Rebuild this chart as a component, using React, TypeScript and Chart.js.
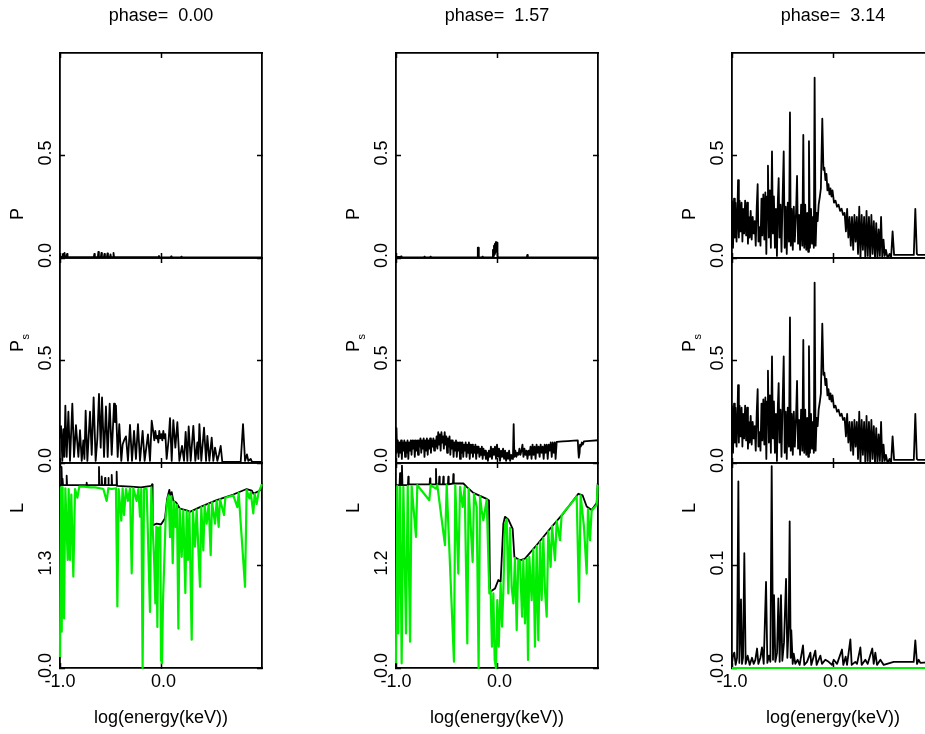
import React, { useEffect, useRef } from 'react';
import { Chart, registerables } from 'chart.js';

Chart.register(...registerables);

const FONT = "'Liberation Sans', Arial, Helvetica, sans-serif";

// ---------- labels / ticks ----------
const phaseValues = [0.0, 1.57, 3.14];
const xTitleText = 'log(energy(keV))';
const xTicks = [-1.0, 0.0];
const xMin = -1.0;
const xMax = 1.0;
const pTicks = [0.0, 0.5];
const pMax = 1.0;
const lTicks = [
  [0.0, 1.3],
  [0.0, 1.2],
  [0.0, 0.1],
];
const lMax = [2.6, 2.4, 0.2];
const rowTitles = ['P', 'P', 'L'];
const rowSubs = ['', 's', ''];

type Pt = [number, number];

// ---------- phase = 0.00 ----------
const pPhase0: Pt[] = [
  [-1.0, 0.005], [-0.975, 0.005], [-0.97, 0.02], [-0.965, 0.005], [-0.955, 0.025], [-0.95, 0.005],
  [-0.935, 0.005], [-0.93, 0.02], [-0.925, 0.005], [-0.7, 0.004], [-0.665, 0.004], [-0.66, 0.02],
  [-0.655, 0.004], [-0.625, 0.004], [-0.62, 0.03], [-0.615, 0.004], [-0.595, 0.004], [-0.59, 0.025],
  [-0.585, 0.004], [-0.565, 0.004], [-0.56, 0.02], [-0.555, 0.004], [-0.535, 0.004], [-0.53, 0.022],
  [-0.525, 0.004], [-0.505, 0.004], [-0.5, 0.018], [-0.495, 0.004], [-0.475, 0.004], [-0.47, 0.025],
  [-0.465, 0.004], [-0.3, 0.004], [-0.025, 0.004], [-0.02, 0.01], [-0.015, 0.003], [0.095, 0.003],
  [0.1, 0.008], [0.105, 0.003], [0.195, 0.003], [0.2, 0.006], [0.205, 0.003], [1.0, 0.003],
];

const psPhase0: Pt[] = [
  [-1.0, 0.12], [-0.99, 0.18], [-0.977, 0.01], [-0.967, 0.165], [-0.957, 0.03], [-0.947, 0.28],
  [-0.934, 0.03], [-0.917, 0.25], [-0.901, 0.01], [-0.878, 0.29], [-0.861, 0.03], [-0.842, 0.185],
  [-0.818, 0.03], [-0.802, 0.16], [-0.785, 0.01], [-0.769, 0.11], [-0.758, 0.02], [-0.746, 0.255],
  [-0.729, 0.01], [-0.703, 0.25], [-0.686, 0.04], [-0.667, 0.32], [-0.647, 0.01], [-0.63, 0.12],
  [-0.614, 0.337], [-0.597, 0.075], [-0.584, 0.32], [-0.564, 0.03], [-0.545, 0.276], [-0.528, 0.03],
  [-0.508, 0.29], [-0.488, 0.04], [-0.465, 0.29], [-0.456, 0.2], [-0.446, 0.28], [-0.429, 0.03],
  [-0.413, 0.19], [-0.393, 0.01], [-0.38, 0.09], [-0.366, 0.11], [-0.347, 0.13], [-0.327, 0.01],
  [-0.307, 0.186], [-0.287, 0.01], [-0.267, 0.157], [-0.248, 0.02], [-0.228, 0.19], [-0.208, 0.01],
  [-0.182, 0.157], [-0.162, 0.01], [-0.129, 0.14], [-0.109, 0.01], [-0.092, 0.206], [-0.076, 0.15],
  [-0.066, 0.11], [-0.056, 0.157], [-0.046, 0.12], [-0.036, 0.132], [-0.026, 0.1], [-0.017, 0.157],
  [-0.007, 0.12], [0.003, 0.141], [0.013, 0.11], [0.023, 0.157], [0.033, 0.12], [0.043, 0.141],
  [0.056, 0.02], [0.076, 0.116], [0.089, 0.219], [0.106, 0.01], [0.122, 0.209], [0.142, 0.075],
  [0.162, 0.199], [0.182, 0.01], [0.208, 0.083], [0.228, 0.01], [0.244, 0.152], [0.261, 0.01],
  [0.274, 0.178], [0.294, 0.01], [0.32, 0.181], [0.34, 0.01], [0.36, 0.1], [0.37, 0.02],
  [0.38, 0.19], [0.399, 0.01], [0.426, 0.173], [0.446, 0.01], [0.459, 0.132], [0.479, 0.01],
  [0.502, 0.124], [0.518, 0.01], [0.535, 0.075], [0.558, 0.01], [0.574, 0.042], [0.591, 0.083],
  [0.607, 0.005], [0.789, 0.005], [0.812, 0.19], [0.832, 0.01], [0.851, 0.042], [0.865, 0.01],
  [0.888, 0.02], [0.901, 0.005], [1.0, 0.005],
];

const lBlack0: Pt[] = [
  [-1.0, 2.32], [-0.99, 2.32], [-0.985, 2.55], [-0.98, 2.32], [-0.975, 2.4], [-0.97, 2.32],
  [-0.937, 2.32], [-0.934, 2.44], [-0.93, 2.32], [-0.74, 2.32], [-0.736, 2.35], [-0.732, 2.32],
  [-0.618, 2.32], [-0.614, 2.55], [-0.61, 2.32], [-0.59, 2.32], [-0.587, 2.43], [-0.583, 2.32],
  [-0.557, 2.32], [-0.554, 2.41], [-0.55, 2.32], [-0.524, 2.32], [-0.521, 2.41], [-0.517, 2.32],
  [-0.491, 2.32], [-0.488, 2.45], [-0.484, 2.32], [-0.442, 2.32], [-0.439, 2.49], [-0.435, 2.31],
  [-0.3, 2.3], [-0.2, 2.29], [-0.095, 2.31], [-0.088, 2.33], [-0.083, 1.81], [-0.043, 1.83],
  [0.0, 1.82], [0.04, 1.9], [0.06, 2.14], [0.073, 2.21], [0.083, 2.26], [0.09, 2.19],
  [0.106, 2.23], [0.122, 2.12], [0.15, 2.1], [0.188, 2.02], [0.254, 2.0], [0.287, 1.98],
  [0.386, 2.04], [0.551, 2.13], [0.716, 2.2], [0.848, 2.27], [0.9, 2.25], [0.914, 2.21],
  [0.964, 2.24], [0.99, 2.26], [1.0, 2.34],
];

const lGreen0: Pt[] = [
  [-1.0, 0.14], [-0.99, 2.29], [-0.983, 0.46], [-0.974, 2.29], [-0.96, 0.63], [-0.947, 2.28],
  [-0.924, 1.37], [-0.914, 2.27], [-0.901, 1.37], [-0.888, 2.2], [-0.868, 1.16], [-0.851, 2.27],
  [-0.828, 2.16], [-0.809, 2.3], [-0.76, 2.3], [-0.7, 2.29], [-0.653, 2.29], [-0.604, 2.28],
  [-0.571, 2.27], [-0.538, 2.12], [-0.521, 2.28], [-0.488, 2.27], [-0.446, 2.28], [-0.432, 0.78],
  [-0.419, 2.27], [-0.393, 1.87], [-0.38, 2.28], [-0.366, 1.94], [-0.347, 2.27], [-0.327, 2.12],
  [-0.307, 2.28], [-0.29, 1.2], [-0.274, 2.28], [-0.241, 2.12], [-0.224, 2.27], [-0.208, 1.92],
  [-0.195, 2.27], [-0.182, 0.0], [-0.168, 2.27], [-0.142, 2.27], [-0.109, 0.71], [-0.096, 2.29],
  [-0.083, 1.79], [-0.069, 1.41], [-0.056, 0.82], [-0.046, 1.79], [-0.036, 0.52], [-0.026, 1.78],
  [-0.017, 1.58], [-0.007, 1.79], [0.0, 0.1], [0.01, 0.06], [0.02, 0.86], [0.033, 1.37],
  [0.046, 1.9], [0.063, 2.12], [0.076, 2.19], [0.089, 1.66], [0.102, 2.18], [0.116, 1.33],
  [0.129, 2.11], [0.145, 1.79], [0.158, 2.07], [0.172, 0.5], [0.185, 2.02], [0.205, 1.41],
  [0.221, 2.0], [0.241, 0.95], [0.254, 1.99], [0.267, 1.37], [0.281, 1.98], [0.304, 0.36],
  [0.317, 1.99], [0.337, 1.54], [0.353, 2.01], [0.386, 1.03], [0.399, 2.04], [0.419, 1.49],
  [0.432, 2.06], [0.452, 1.83], [0.472, 2.08], [0.492, 1.43], [0.505, 2.1], [0.535, 1.83],
  [0.551, 2.12], [0.571, 1.79], [0.584, 2.14], [0.624, 1.94], [0.637, 2.16], [0.716, 2.19],
  [0.756, 2.04], [0.769, 2.22], [0.832, 1.03], [0.848, 2.26], [0.875, 2.15], [0.888, 2.23],
  [0.914, 1.96], [0.927, 2.21], [0.947, 2.08], [0.967, 2.23], [1.0, 2.33],
];

// ---------- phase = 1.57 ----------
const pPhase1: Pt[] = [
  [-1.0, 0.005], [-0.955, 0.005], [-0.95, 0.008], [-0.945, 0.003], [-0.725, 0.003], [-0.72, 0.006],
  [-0.715, 0.003], [-0.665, 0.003], [-0.66, 0.006], [-0.655, 0.003], [-0.195, 0.003], [-0.19, 0.05],
  [-0.185, 0.05], [-0.18, 0.003], [-0.15, 0.003], [-0.145, 0.006], [-0.14, 0.003], [-0.045, 0.003],
  [-0.04, 0.04], [-0.035, 0.01], [-0.03, 0.06], [-0.025, 0.02], [-0.02, 0.07], [-0.015, 0.03],
  [-0.01, 0.078], [-0.005, 0.04], [0.0, 0.075], [0.005, 0.01], [0.01, 0.003], [0.295, 0.003],
  [0.3, 0.015], [0.305, 0.003], [1.0, 0.003],
];

const psPhase1: Pt[] = [
  [-1.0, 0.05], [-0.995, 0.17], [-0.99, 0.06], [-0.982, 0.11], [-0.974, 0.03], [-0.966, 0.1],
  [-0.958, 0.05], [-0.95, 0.11], [-0.942, 0.02], [-0.934, 0.1], [-0.926, 0.06], [-0.918, 0.11],
  [-0.91, 0.03], [-0.902, 0.1], [-0.894, 0.05], [-0.886, 0.11], [-0.878, 0.02], [-0.87, 0.1],
  [-0.862, 0.06], [-0.854, 0.11], [-0.846, 0.04], [-0.838, 0.11], [-0.83, 0.07], [-0.822, 0.11],
  [-0.814, 0.03], [-0.806, 0.11], [-0.798, 0.06], [-0.79, 0.11], [-0.782, 0.04], [-0.774, 0.11],
  [-0.766, 0.08], [-0.758, 0.12], [-0.75, 0.05], [-0.742, 0.11], [-0.734, 0.07], [-0.726, 0.12],
  [-0.718, 0.03], [-0.71, 0.11], [-0.702, 0.06], [-0.694, 0.12], [-0.686, 0.04], [-0.678, 0.11],
  [-0.67, 0.07], [-0.662, 0.12], [-0.654, 0.05], [-0.646, 0.11], [-0.638, 0.08], [-0.63, 0.12],
  [-0.622, 0.06], [-0.614, 0.11], [-0.606, 0.08], [-0.598, 0.13], [-0.59, 0.07], [-0.582, 0.15],
  [-0.574, 0.09], [-0.566, 0.14], [-0.558, 0.06], [-0.55, 0.15], [-0.542, 0.1], [-0.534, 0.13],
  [-0.526, 0.07], [-0.518, 0.15], [-0.51, 0.09], [-0.502, 0.13], [-0.494, 0.05], [-0.486, 0.12],
  [-0.478, 0.08], [-0.47, 0.13], [-0.462, 0.04], [-0.454, 0.11], [-0.446, 0.07], [-0.438, 0.11],
  [-0.43, 0.03], [-0.422, 0.1], [-0.414, 0.06], [-0.406, 0.11], [-0.398, 0.03], [-0.39, 0.1],
  [-0.382, 0.06], [-0.374, 0.1], [-0.366, 0.02], [-0.358, 0.1], [-0.35, 0.05], [-0.342, 0.1],
  [-0.334, 0.03], [-0.326, 0.09], [-0.318, 0.06], [-0.31, 0.1], [-0.302, 0.03], [-0.294, 0.09],
  [-0.286, 0.05], [-0.278, 0.1], [-0.27, 0.02], [-0.262, 0.09], [-0.254, 0.05], [-0.246, 0.09],
  [-0.238, 0.03], [-0.23, 0.08], [-0.222, 0.05], [-0.214, 0.09], [-0.206, 0.02], [-0.198, 0.08],
  [-0.19, 0.05], [-0.182, 0.08], [-0.174, 0.03], [-0.166, 0.07], [-0.158, 0.04], [-0.15, 0.08],
  [-0.142, 0.02], [-0.134, 0.07], [-0.126, 0.04], [-0.118, 0.06], [-0.11, 0.02], [-0.1, 0.05],
  [-0.09, 0.01], [-0.08, 0.06], [-0.07, 0.03], [-0.06, 0.08], [-0.05, 0.02], [-0.04, 0.07],
  [-0.03, 0.04], [-0.02, 0.08], [-0.01, 0.02], [0.0, 0.09], [0.01, 0.03], [0.02, 0.07],
  [0.03, 0.01], [0.04, 0.06], [0.05, 0.03], [0.06, 0.07], [0.07, 0.02], [0.08, 0.06],
  [0.09, 0.01], [0.1, 0.05], [0.11, 0.02], [0.12, 0.06], [0.13, 0.01], [0.14, 0.04],
  [0.15, 0.02], [0.158, 0.03], [0.165, 0.19], [0.172, 0.03], [0.182, 0.06], [0.192, 0.03],
  [0.202, 0.05], [0.212, 0.04], [0.222, 0.07], [0.232, 0.04], [0.242, 0.06], [0.252, 0.09],
  [0.262, 0.03], [0.272, 0.07], [0.282, 0.04], [0.292, 0.06], [0.302, 0.02], [0.312, 0.06],
  [0.322, 0.04], [0.332, 0.08], [0.342, 0.02], [0.352, 0.09], [0.362, 0.04], [0.372, 0.08],
  [0.382, 0.02], [0.392, 0.09], [0.402, 0.05], [0.412, 0.08], [0.422, 0.03], [0.432, 0.09],
  [0.442, 0.05], [0.452, 0.08], [0.462, 0.02], [0.472, 0.09], [0.482, 0.05], [0.492, 0.09],
  [0.502, 0.02], [0.512, 0.09], [0.522, 0.06], [0.532, 0.1], [0.542, 0.03], [0.552, 0.1],
  [0.562, 0.05], [0.572, 0.1], [0.58, 0.02], [0.591, 0.103], [0.65, 0.105], [0.7, 0.107],
  [0.76, 0.109], [0.8, 0.11], [0.805, 0.06], [0.81, 0.026], [0.818, 0.05], [0.822, 0.09],
  [0.83, 0.08], [0.84, 0.1], [0.85, 0.09], [0.86, 0.105], [0.92, 0.108], [1.0, 0.111],
];

const lBlack1: Pt[] = [
  [-1.0, 2.14], [-0.965, 2.14], [-0.96, 2.28], [-0.955, 2.14], [-0.945, 2.14], [-0.941, 2.37],
  [-0.936, 2.14], [-0.882, 2.14], [-0.878, 2.24], [-0.874, 2.15], [-0.828, 2.15], [-0.667, 2.15],
  [-0.663, 2.22], [-0.659, 2.15], [-0.608, 2.15], [-0.604, 2.33], [-0.6, 2.15], [-0.575, 2.15],
  [-0.571, 2.24], [-0.567, 2.15], [-0.535, 2.15], [-0.531, 2.24], [-0.527, 2.15], [-0.486, 2.15],
  [-0.482, 2.24], [-0.478, 2.15], [-0.436, 2.16], [-0.432, 2.27], [-0.428, 2.16], [-0.333, 2.16],
  [-0.3, 2.12], [-0.234, 2.05], [-0.102, 1.98], [-0.079, 1.96], [-0.069, 0.89], [-0.02, 0.93],
  [0.013, 1.03], [0.036, 1.01], [0.063, 1.69], [0.079, 1.77], [0.112, 1.74], [0.155, 1.63],
  [0.172, 1.3], [0.228, 1.26], [0.277, 1.28], [0.393, 1.44], [0.525, 1.63], [0.657, 1.81],
  [0.805, 2.04], [0.848, 2.02], [0.888, 1.89], [0.937, 1.85], [0.987, 1.93], [0.997, 2.16],
  [1.0, 2.16],
];

const lGreen1: Pt[] = [
  [-1.0, 0.055], [-0.987, 2.13], [-0.977, 0.405], [-0.96, 2.12], [-0.944, 0.055], [-0.927, 2.12],
  [-0.901, 0.405], [-0.884, 2.13], [-0.861, 0.308], [-0.845, 2.13], [-0.802, 1.535], [-0.789, 2.14],
  [-0.67, 1.964], [-0.657, 2.14], [-0.604, 2.1], [-0.591, 2.14], [-0.515, 1.438], [-0.498, 2.14],
  [-0.426, 0.074], [-0.413, 2.14], [-0.383, 1.106], [-0.366, 2.12], [-0.34, 1.886], [-0.32, 2.12],
  [-0.294, 0.288], [-0.281, 2.1], [-0.241, 1.243], [-0.228, 2.04], [-0.201, 1.886], [-0.182, 0.0],
  [-0.168, 2.01], [-0.152, 1.847], [-0.135, 1.73], [-0.102, 1.97], [-0.076, 0.873], [-0.063, 0.912],
  [-0.05, 0.249], [-0.036, 0.873], [-0.023, 0.094], [-0.01, 0.0], [0.003, 0.795], [0.017, 0.249],
  [0.036, 0.99], [0.05, 0.483], [0.063, 0.912], [0.079, 1.68], [0.096, 1.74], [0.112, 0.873],
  [0.129, 1.64], [0.145, 0.951], [0.162, 0.756], [0.178, 1.29], [0.195, 0.444], [0.211, 1.27],
  [0.228, 1.25], [0.248, 0.6], [0.261, 1.27], [0.277, 0.522], [0.294, 1.28], [0.307, 0.094],
  [0.32, 1.3], [0.343, 0.795], [0.36, 1.39], [0.376, 0.249], [0.393, 1.43], [0.409, 0.327],
  [0.426, 1.47], [0.442, 0.795], [0.459, 1.52], [0.475, 0.912], [0.492, 0.6], [0.508, 1.6],
  [0.531, 1.184], [0.545, 1.66], [0.574, 1.262], [0.591, 1.72], [0.624, 1.496], [0.64, 1.79],
  [0.673, 1.84], [0.723, 1.91], [0.789, 2.01], [0.812, 0.775], [0.828, 2.02], [0.861, 1.652],
  [0.888, 1.106], [0.901, 1.86], [0.921, 1.496], [0.937, 1.84], [0.987, 1.91], [0.997, 2.139],
  [1.0, 2.14],
];

// ---------- phase = 3.14 ----------
const pPhase2: Pt[] = [
  [-1.0, 0.28], [-0.99, 0.05], [-0.98, 0.29], [-0.972, 0.1], [-0.965, 0.27], [-0.955, 0.08],
  [-0.945, 0.25], [-0.94, 0.38], [-0.932, 0.1], [-0.925, 0.28], [-0.915, 0.13], [-0.905, 0.27],
  [-0.897, 0.08], [-0.89, 0.24], [-0.88, 0.12], [-0.87, 0.28], [-0.86, 0.11], [-0.85, 0.27],
  [-0.842, 0.07], [-0.835, 0.2], [-0.825, 0.1], [-0.815, 0.23], [-0.805, 0.09], [-0.795, 0.2],
  [-0.785, 0.12], [-0.775, 0.18], [-0.765, 0.06], [-0.755, 0.25], [-0.746, 0.36], [-0.738, 0.08],
  [-0.728, 0.15], [-0.718, 0.06], [-0.708, 0.29], [-0.7, 0.11], [-0.69, 0.31], [-0.68, 0.09],
  [-0.67, 0.32], [-0.66, 0.02], [-0.652, 0.3], [-0.644, 0.45], [-0.635, 0.1], [-0.625, 0.33],
  [-0.615, 0.05], [-0.604, 0.52], [-0.595, 0.12], [-0.585, 0.3], [-0.575, 0.05], [-0.565, 0.24],
  [-0.555, 0.01], [-0.546, 0.28], [-0.538, 0.39], [-0.53, 0.1], [-0.52, 0.26], [-0.51, 0.03],
  [-0.5, 0.27], [-0.488, 0.52], [-0.478, 0.05], [-0.468, 0.25], [-0.458, 0.02], [-0.448, 0.27],
  [-0.436, 0.08], [-0.426, 0.71], [-0.418, 0.06], [-0.408, 0.24], [-0.398, 0.04], [-0.388, 0.25],
  [-0.378, 0.08], [-0.366, 0.22], [-0.356, 0.4], [-0.346, 0.07], [-0.336, 0.21], [-0.326, 0.04],
  [-0.316, 0.26], [-0.304, 0.06], [-0.294, 0.6], [-0.285, 0.05], [-0.275, 0.26], [-0.265, 0.04],
  [-0.255, 0.22], [-0.246, 0.03], [-0.238, 0.57], [-0.228, 0.05], [-0.218, 0.24], [-0.208, 0.07],
  [-0.198, 0.2], [-0.19, 0.05], [-0.182, 0.88], [-0.172, 0.06], [-0.162, 0.22], [-0.152, 0.18],
  [-0.142, 0.26], [-0.13, 0.3], [-0.12, 0.34], [-0.106, 0.68], [-0.095, 0.43], [-0.085, 0.44],
  [-0.075, 0.38], [-0.065, 0.41], [-0.055, 0.33], [-0.045, 0.36], [-0.035, 0.31], [-0.025, 0.34],
  [-0.015, 0.3], [-0.005, 0.33], [0.01, 0.27], [0.025, 0.28], [0.04, 0.25], [0.055, 0.26],
  [0.07, 0.23], [0.085, 0.24], [0.1, 0.21], [0.115, 0.22], [0.128, 0.13], [0.14, 0.24],
  [0.152, 0.1], [0.164, 0.2], [0.176, 0.06], [0.188, 0.2], [0.2, 0.04], [0.212, 0.21],
  [0.224, 0.08], [0.236, 0.2], [0.248, 0.02], [0.26, 0.25], [0.272, 0.0], [0.284, 0.21],
  [0.296, 0.04], [0.308, 0.2], [0.32, 0.0], [0.332, 0.23], [0.344, 0.01], [0.356, 0.2],
  [0.368, 0.0], [0.38, 0.21], [0.392, 0.02], [0.404, 0.18], [0.416, 0.0], [0.428, 0.17],
  [0.44, 0.0], [0.452, 0.14], [0.464, 0.01], [0.476, 0.2], [0.488, 0.0], [0.5, 0.09],
  [0.512, 0.01], [0.524, 0.04], [0.54, 0.0], [0.56, 0.02], [0.575, 0.0], [0.59, 0.13],
  [0.605, 0.015], [0.8, 0.015], [0.815, 0.24], [0.83, 0.02], [0.84, 0.015], [1.0, 0.015],
];

// P_s at phase 3.14 reads the same as P
const psPhase2: Pt[] = pPhase2;

const lBlack2: Pt[] = [
  [-1.0, 0.004], [-0.99, 0.012], [-0.977, 0.015], [-0.964, 0.003], [-0.95, 0.01], [-0.937, 0.182],
  [-0.927, 0.005], [-0.911, 0.067], [-0.901, 0.004], [-0.891, 0.01], [-0.878, 0.112], [-0.865, 0.004],
  [-0.845, 0.012], [-0.825, 0.003], [-0.802, 0.01], [-0.785, 0.004], [-0.769, 0.008], [-0.752, 0.019],
  [-0.739, 0.004], [-0.719, 0.01], [-0.703, 0.02], [-0.686, 0.004], [-0.663, 0.084], [-0.65, 0.005],
  [-0.634, 0.012], [-0.62, 0.006], [-0.607, 0.197], [-0.594, 0.008], [-0.584, 0.071], [-0.571, 0.006],
  [-0.554, 0.015], [-0.541, 0.068], [-0.528, 0.006], [-0.515, 0.071], [-0.502, 0.007], [-0.485, 0.025],
  [-0.465, 0.087], [-0.452, 0.01], [-0.439, 0.04], [-0.429, 0.143], [-0.419, 0.01], [-0.413, 0.037],
  [-0.399, 0.004], [-0.389, 0.014], [-0.373, 0.004], [-0.35, 0.008], [-0.33, 0.003], [-0.297, 0.022],
  [-0.284, 0.003], [-0.257, 0.006], [-0.224, 0.015], [-0.215, 0.003], [-0.175, 0.017], [-0.162, 0.003],
  [-0.125, 0.012], [-0.109, 0.004], [-0.076, 0.008], [-0.043, 0.006], [-0.01, 0.003], [0.007, 0.008],
  [0.04, 0.004], [0.089, 0.018], [0.102, 0.003], [0.125, 0.011], [0.139, 0.003], [0.172, 0.028],
  [0.185, 0.003], [0.221, 0.006], [0.238, 0.004], [0.271, 0.02], [0.284, 0.003], [0.32, 0.008],
  [0.343, 0.004], [0.389, 0.019], [0.403, 0.004], [0.419, 0.015], [0.436, 0.003], [0.469, 0.008],
  [0.502, 0.003], [0.601, 0.006], [0.799, 0.006], [0.815, 0.027], [0.832, 0.004], [0.848, 0.008],
  [0.865, 0.005], [1.0, 0.006],
];

const lGreen2: Pt[] = [
  [-1.0, 0.0], [0.0, 0.0], [1.0, 0.0],
];

const pData = [pPhase0, pPhase1, pPhase2];
const psData = [psPhase0, psPhase1, psPhase2];
const lBlackData = [lBlack0, lBlack1, lBlack2];
const lGreenData = [lGreen0, lGreen1, lGreen2];

// ---------- layout constants ----------
const CANVAS_W = 960;
const CANVAS_H = 734;
const COL_LEFT = [60, 396, 732];
const PLOT_W = 202;
const ROW_TOP = [53, 258, 463];
const ROW_H = 205;
const Y_AXIS_W = 40;
const X_AXIS_H = 40;
const Y_TITLE_START = [167, 94, 50];

const BLACK = '#000000';
const GREEN = '#00ee00';

const fmt = (v: any) => Number(v).toFixed(1).padStart(4, ' ');

const panelText = {
  id: 'panelText',
  afterDraw(chart: any, _args: any, opts: any) {
    const { ctx, chartArea: a } = chart;
    ctx.save();
    ctx.fillStyle = BLACK;
    ctx.font = `18px ${FONT}`;
    ctx.textBaseline = 'alphabetic';
    const cx = (a.left + a.right) / 2;
    if (opts.title) {
      ctx.textAlign = 'center';
      ctx.fillText(opts.title, cx, 20.5);
    }
    if (opts.xTitle) {
      ctx.textAlign = 'center';
      ctx.fillText(opts.xTitle, cx, a.bottom + 55);
    }
    if (opts.yTitle) {
      ctx.translate(a.left - 37, a.top + opts.yStart);
      ctx.rotate(-Math.PI / 2);
      ctx.textAlign = 'left';
      ctx.fillText(opts.yTitle, 0, 0);
      if (opts.ySub) {
        const w = ctx.measureText(opts.yTitle).width;
        ctx.font = `11px ${FONT}`;
        ctx.fillText(opts.ySub, w + 0.5, 6);
      }
    }
    ctx.restore();
  },
};

function axis(position: string, axisId: string, min: number, max: number, ticks: number[], showLabels: boolean, size: number) {
  const horizontal = position === 'top' || position === 'bottom';
  return {
    type: 'linear',
    axis: axisId,
    position,
    min,
    max,
    afterBuildTicks: (s: any) => {
      s.ticks = ticks.map((v) => ({ value: v }));
    },
    afterFit: (s: any) => {
      if (horizontal) s.height = size;
      else s.width = size;
    },
    ticks: {
      display: showLabels,
      callback: fmt,
      color: BLACK,
      font: { family: FONT, size: 18 },
      padding: horizontal ? 8 : 3.5,
      autoSkip: false,
      minRotation: horizontal ? 0 : 90,
      maxRotation: horizontal ? 0 : 90,
      crossAlign: horizontal ? 'near' : 'center',
    },
    grid: {
      display: true,
      drawOnChartArea: false,
      drawTicks: true,
      tickLength: -5,
      tickColor: BLACK,
      tickWidth: 1.5,
    },
    border: { display: true, color: BLACK, width: 1.8 },
  };
}

function Panel({ col, row }: { col: number; row: number }) {
  const ref = useRef<HTMLCanvasElement | null>(null);
  useEffect(() => {
    if (!ref.current) return;
    const left = COL_LEFT[col];
    const top = ROW_TOP[row];
    const yMax = row === 2 ? lMax[col] : pMax;
    const yTicks = row === 2 ? lTicks[col] : pTicks;
    const line = (data: Pt[], color: string, width: number) => ({
      data: data.map(([x, y]) => ({ x, y })),
      borderColor: color,
      backgroundColor: color,
      borderWidth: width,
      pointRadius: 0,
      pointHoverRadius: 0,
      fill: false,
      tension: 0,
      borderJoinStyle: 'round',
      clip: false,
    });
    let datasets: any[];
    if (row === 0) datasets = [line(pData[col], BLACK, 1.8)];
    else if (row === 1) datasets = [line(psData[col], BLACK, 1.8)];
    else datasets = [line(lGreenData[col], GREEN, 2.2), line(lBlackData[col], BLACK, 1.8)];

    const chart = new Chart(ref.current, {
      type: 'line',
      data: { datasets },
      options: {
        responsive: false,
        animation: false,
        devicePixelRatio: 1,
        events: [],
        layout: {
          padding: {
            left: left - Y_AXIS_W,
            top,
            right: CANVAS_W - left - PLOT_W,
            bottom: CANVAS_H - top - ROW_H - X_AXIS_H,
          },
        },
        scales: {
          x: axis('bottom', 'x', xMin, xMax, xTicks, row === 2, X_AXIS_H),
          x2: axis('top', 'x', xMin, xMax, xTicks, false, 0),
          y: axis('left', 'y', 0, yMax, yTicks, true, Y_AXIS_W),
          y2: axis('right', 'y', 0, yMax, yTicks, false, 0),
        },
        plugins: {
          legend: { display: false },
          tooltip: { enabled: false },
          title: { display: false },
          panelText: {
            title: row === 0 ? `phase= ${phaseValues[col].toFixed(2).padStart(5, ' ')}` : '',
            xTitle: row === 2 ? xTitleText : '',
            yTitle: rowTitles[row],
            ySub: rowSubs[row],
            yStart: Y_TITLE_START[row],
          },
        },
      } as any,
      plugins: [panelText as any],
    });
    return () => chart.destroy();
  }, [col, row]);
  return (
    <canvas
      ref={ref}
      width={CANVAS_W}
      height={CANVAS_H}
      style={{ position: 'absolute', left: 0, top: 0, width: CANVAS_W, height: CANVAS_H }}
    />
  );
}

export default function App() {
  const cells: { col: number; row: number }[] = [];
  for (let col = 0; col < 3; col++) for (let row = 0; row < 3; row++) cells.push({ col, row });
  return (
    <div
      style={{
        position: 'absolute',
        left: 0,
        top: 0,
        width: 925,
        height: 734,
        overflow: 'hidden',
        background: '#ffffff',
      }}
    >
      {cells.map((c) => (
        <Panel key={`${c.col}-${c.row}`} col={c.col} row={c.row} />
      ))}
    </div>
  );
}
